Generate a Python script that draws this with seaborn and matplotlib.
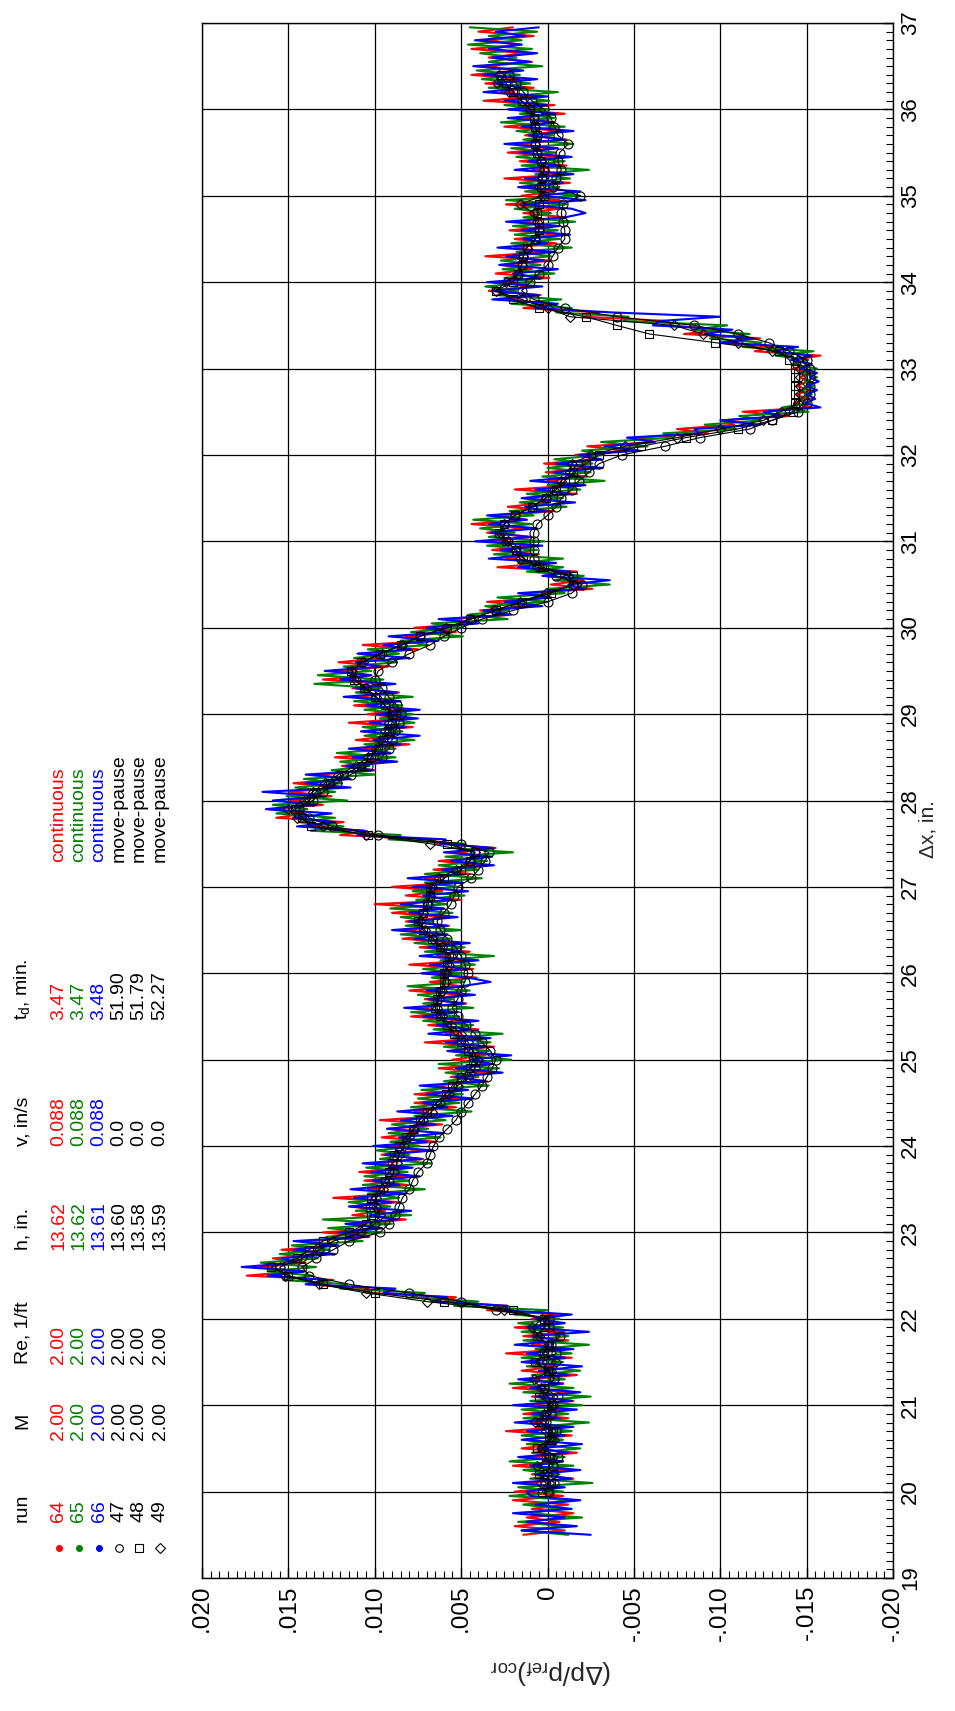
import numpy as np
import pandas as pd
import matplotlib
matplotlib.use("Agg")
import matplotlib.pyplot as plt
import seaborn as sns
from matplotlib.ticker import MultipleLocator
from matplotlib.lines import Line2D

# ---------------- data (pressure values in units of 1e-4) ----------------
# continuous runs: samples every 0.05 in from 19.50 to 36.95
run64 = [14,-10,19,-7,12,-15,9,-12,20,-9,
 19,-7,12,-15,9,-12,20,-9,10,-17,15,-5,14,-14,24,-10,9,-12,14,-10,
 12,-15,9,-12,20,-9,10,-17,15,-5,14,-14,24,-10,9,-12,14,-10,19,-7,
 9,-7,35,23,60,53,105,103,139,124,174,145,167,140,159,130,154,124,139,103,
 130,96,110,82,113,94,114,86,124,87,104,81,106,81,109,81,99,72,96,73,
 94,65,96,75,92,61,97,60,77,53,77,50,77,49,66,35,56,33,63,32,
 55,36,57,31,71,38,59,40,69,47,79,55,75,47,71,49,80,50,68,41,
 72,43,80,45,64,45,74,52,84,61,82,57,82,59,90,60,100,50,82,61,
 90,54,71,45,66,38,63,35,52,30,64,66,120,106,138,118,157,140,162,130,
 149,125,149,121,147,117,132,100,119,94,123,91,108,80,111,89,107,78,115,80,
 104,81,112,88,110,86,113,95,130,102,122,92,121,95,109,75,107,68,82,53,
 77,43,55,21,39,10,35,-2,10,-26,-2,-21,2,-17,29,0,24,5,32,10,
 34,9,35,13,44,12,28,-4,23,-1,14,-17,19,-17,0,-23,1,-25,2,-28,
 -16,-46,-23,-62,-53,-93,-75,-108,-101,-140,-113,-153,-143,-150,-144,-152,-144,-151,-146,-152,
 -142,-153,-143,-158,-120,-130,-101,-123,-79,-102,-71,-70,-21,-30,14,-3,24,4,34,10,
 28,-1,30,9,27,-2,36,1,19,-5,19,-6,22,-4,16,-11,14,-7,24,-7,
 15,-4,16,-13,25,-10,9,-11,16,-7,23,-3,17,-11,13,-8,25,-4,16,-10,
 22,-4,37,5,27,8,36,13,44,17,35,9,34,13,44,15,35,8,40,20]

run65 = [-12,15,-9,17,-20,10,-7,14,-15,22,
 -9,17,-26,10,-7,14,-15,22,-10,9,-19,12,-9,15,-14,7,-24,14,-12,15,
 -20,10,-25,14,-15,22,-10,9,-19,12,-9,15,-14,7,-24,14,-12,15,-9,17,
 -7,19,0,54,40,79,71,120,116,153,136,162,134,166,133,155,126,148,107,128,
 95,127,90,130,79,111,91,115,86,104,71,107,80,106,81,105,67,97,80,99,
 74,91,62,92,69,90,59,77,44,79,51,75,49,73,34,60,40,59,28,63,
 21,53,34,60,33,55,26,66,43,72,51,79,43,72,55,75,45,81,48,67,
 49,72,42,62,31,71,48,77,56,85,50,82,66,85,55,91,58,76,48,78,
 52,71,38,71,40,63,35,59,20,55,48,92,85,137,118,144,123,157,139,159,
 116,151,123,146,119,141,100,125,103,120,88,122,88,106,77,106,84,107,77,97,
 78,106,84,112,78,111,97,135,95,133,102,118,87,112,86,104,69,85,49,79,
 49,67,23,46,23,36,0,29,-10,0,-36,-4,-21,12,-9,17,-9,31,6,35,
 2,34,19,39,9,43,8,22,-11,16,-9,12,-19,0,-33,3,-25,0,-26,-4,
 -32,-20,-58,-31,-73,-67,-109,-91,-124,-111,-151,-136,-152,-146,-153,-147,-154,-149,-156,-147,
 -156,-141,-151,-132,-154,-113,-124,-94,-117,-85,-104,-44,-47,-5,-14,21,-8,29,18,36,
 8,25,-4,26,4,27,-2,18,-14,21,-7,19,-6,20,-16,14,-2,19,-11,24,
 -19,13,-7,16,-13,7,-24,15,-10,18,-5,21,-15,14,-3,18,-10,27,-4,16,
 -1,25,-1,22,-6,34,10,38,16,41,3,34,18,39,9,46,15,34,6,45]

run66 = [-25,15,-17,12,-10,20,-14,7,-19,10,
 12,-10,20,-14,7,-19,10,-9,17,-12,5,-20,15,-10,12,-15,19,-7,9,-17,
 20,-14,7,-19,10,-9,17,-12,5,-20,15,-10,12,-15,19,-7,9,-24,12,-10,
 7,-14,25,23,67,58,95,88,140,128,162,140,177,145,154,123,147,121,147,104,
 120,96,117,87,103,79,115,90,112,82,114,86,101,74,102,78,107,73,94,66,
 101,70,86,60,93,65,85,55,87,58,72,43,70,46,74,36,54,26,53,32,
 45,21,58,35,59,33,69,45,64,40,72,52,83,48,69,42,70,50,33,46,
 73,47,68,40,74,50,69,45,77,58,90,58,80,52,80,60,85,55,72,46,
 78,49,81,50,61,31,56,32,60,31,62,59,110,106,145,123,147,125,163,134,
 159,130,165,114,140,114,140,101,117,87,113,91,115,85,101,74,108,82,103,75,
 99,74,105,85,118,87,111,88,120,102,129,97,111,80,110,79,95,63,92,58,
 70,40,63,22,37,3,25,-2,17,-21,-12,-36,3,-13,17,-5,34,10,27,3,
 42,10,33,6,34,12,35,1,13,-16,15,-13,7,-22,10,-18,-4,-32,-5,-31,
 -18,-53,-33,-62,-46,-88,-85,-123,-100,-136,-125,-158,-149,-155,-150,-156,-150,-157,-152,-156,
 -146,-153,-141,-153,-130,-145,-100,-119,-91,-107,-61,-65,-100,-37,7,-6,32,5,32,3,
 35,4,20,-6,28,2,24,-4,29,0,14,-13,15,-7,24,-10,-22,-14,14,-22,
 5,-19,17,-9,13,-15,19,-6,11,-14,16,-6,25,-10,11,-15,15,-4,23,-5,
 23,0,25,0,37,13,31,6,37,14,43,10,32,6,34,15,42,13,30,5]

# move-pause runs: samples every 0.1 in from 20.0 to 36.4
run47 = [-1,-4,2,-3,-6,3,-2,-5,1,-2,
 -3,-6,2,-4,-1,3,-5,-2,-7,-1,
 -1,30,50,80,115,138,142,134,124,115,
 97,92,88,86,84,80,78,75,70,68,
 66,63,58,53,50,46,42,38,35,32,
 30,33,38,42,47,52,55,52,50,48,
 46,48,50,53,58,62,64,60,56,54,
 52,44,40,36,34,50,98,125,138,144,
 136,130,122,114,104,96,92,90,88,86,
 85,87,92,96,100,98,90,80,68,60,
 50,38,20,0,-14,-20,-5,5,8,8,
 8,8,6,0,-5,-8,-14,-18,-24,-30,
 -43,-68,-88,-117,-130,-145,-150,-152,-152,-152,
 -152,-150,-140,-128,-110,-85,-40,-10,8,15,
 10,5,0,-3,-6,-10,-10,-9,-8,-9,
 -19,-3,-5,-8,-6,-7,-12,-6,-4,-2,
 2,9,14,18,22]

run48 = [3,-2,5,-3,1,6,-1,-3,4,1,
 -2,5,2,-4,0,7,2,-1,6,2,
 2,20,60,100,130,150,160,145,138,130,
 115,105,102,103,102,97,94,92,90,89,
 86,82,78,74,70,64,59,55,50,45,
 43,46,50,54,58,62,65,64,62,60,
 60,58,57,62,67,72,75,72,70,68,
 68,60,50,45,42,58,104,137,142,146,
 138,134,126,118,108,102,98,95,92,90,
 90,94,100,106,112,114,108,97,85,74,
 58,45,30,15,-2,-15,-15,3,14,18,
 24,28,25,19,9,1,-5,-10,-15,-22,
 -30,-54,-80,-110,-130,-142,-143,-143,-143,-143,
 -143,-140,-134,-97,-59,-40,-22,5,20,30,
 20,17,15,14,12,7,5,5,6,5,
 2,4,3,2,4,6,7,6,7,8,
 10,15,20,24,27]

run49 = [0,4,-3,6,-1,3,-4,1,7,2,
 -3,0,4,8,-2,-5,3,0,5,9,
 3,25,70,105,132,152,155,142,132,124,
 108,100,97,99,99,95,92,89,87,86,
 83,80,77,72,67,62,57,52,46,42,
 40,43,46,50,56,61,64,63,61,59,
 59,57,56,61,66,71,74,72,69,68,
 67,63,53,45,42,68,105,130,145,150,
 141,136,129,121,111,104,99,97,94,92,
 91,94,99,105,111,113,107,96,84,74,
 59,44,31,16,1,-15,-12,6,16,19,
 23,27,25,19,9,1,-4,-8,-13,-14,
 -25,-45,-75,-100,-125,-135,-145,-146,-146,-146,
 -146,-145,-130,-110,-90,-73,-13,0,15,30,
 24,17,15,14,12,7,5,6,8,16,
 3,5,3,2,4,6,7,6,7,8,
 10,15,22,29,28]

dx_cont = np.round(np.arange(1950, 3700, 5) / 100.0, 2)
dx_mp = np.round(np.arange(200, 365) / 10.0, 1)

xtick_vals = [0.020, 0.015, 0.010, 0.005, 0.0, -0.005, -0.010, -0.015, -0.020]
xtick_labels = [".020", ".015", ".010", ".005", "0", "-.005", "-.010", "-.015", "-.020"]
ytick_vals = list(range(19, 38))
ytick_labels = [str(v) for v in ytick_vals]

leg_run = ["64", "65", "66", "47", "48", "49"]
leg_M = ["2.00"] * 6
leg_Re = ["2.00"] * 6
leg_h = ["13.62", "13.62", "13.61", "13.60", "13.58", "13.59"]
leg_v = ["0.088", "0.088", "0.088", "0.0", "0.0", "0.0"]
leg_td = ["3.47", "3.47", "3.48", "51.90", "51.79", "52.27"]
leg_mode = ["continuous", "continuous", "continuous", "move-pause", "move-pause", "move-pause"]

# ---------------- style ----------------
sns.set_theme(style="white")
plt.rcParams["font.family"] = ["Liberation Sans", "DejaVu Sans"]
plt.rcParams["mathtext.fontset"] = "custom"
plt.rcParams["mathtext.rm"] = "Liberation Sans"
plt.rcParams["mathtext.it"] = "Liberation Sans"
plt.rcParams["mathtext.default"] = "regular"

W, H = 955, 1711
fig = plt.figure(figsize=(W / 100, H / 100), dpi=100)
fig.patch.set_facecolor("white")
ax = fig.add_axes([202 / W, 1 - 1578 / H, (893 - 202) / W, (1578 - 23) / H])
ax.set_facecolor("white")

RED, GREEN, BLUE = "#ff0000", "#008000", "#0000ff"

def frame(vals, dx):
    n = min(len(vals), len(dx))
    return pd.DataFrame({"dx": dx[:n], "dp": np.array(vals[:n], dtype=float) * 1e-4})

for vals, col in [(run64, RED), (run65, GREEN), (run66, BLUE)]:
    sns.lineplot(data=frame(vals, dx_cont), x="dp", y="dx", orient="y", sort=True,
                 estimator=None, color=col, linewidth=1.5, ax=ax, legend=False, zorder=3)

for vals, mk, ms in [(run47, "o", 6.5), (run48, "s", 6.0), (run49, "D", 5.5)]:
    sns.lineplot(data=frame(vals, dx_mp), x="dp", y="dx", orient="y", sort=True,
                 estimator=None, color="black", linewidth=0.8, marker=mk, markersize=ms,
                 markerfacecolor="none", markeredgecolor="black", markeredgewidth=0.8,
                 ax=ax, legend=False, zorder=4)

ax.set_xlim(0.020, -0.020)
ax.set_ylim(19, 37)
ax.set_xlabel("")
ax.set_ylabel("")

ax.set_xticks(xtick_vals)
ax.set_xticklabels(xtick_labels)
ax.xaxis.set_minor_locator(MultipleLocator(0.0005))
ax.yaxis.tick_right()
ax.set_yticks(ytick_vals)
ax.set_yticklabels(ytick_labels)
ax.yaxis.set_minor_locator(MultipleLocator(0.1))

ax.tick_params(axis="x", which="both", direction="in", bottom=True, top=False, labelbottom=True)
ax.tick_params(axis="y", which="both", direction="in", right=True, left=False,
               labelright=True, labelleft=False)
ax.tick_params(which="major", length=7, width=1.0, color="black", labelcolor="black")
ax.tick_params(which="minor", length=5, width=0.8, color="black")
ax.tick_params(axis="x", which="major", labelrotation=90, pad=5, labelsize=17.5)
ax.tick_params(axis="y", which="major", labelrotation=90, pad=5, labelsize=16)
for lbl in ax.get_yticklabels():
    lbl.set_va("center")

ax.grid(True, which="major", color="black", linewidth=0.9)
ax.grid(False, which="minor")
ax.set_axisbelow(True)
for s in ax.spines.values():
    s.set_visible(True)
    s.set_color("black")
    s.set_linewidth(1.0)

# axis titles (rotated page)
fig.text(928 / W, 1 - 829 / H, "\u0394x, in.", rotation=90, ha="center", va="center", fontsize=15)
fig.text(551 / W, 1 - 1672 / H, "(\u0394p/p$_{ref}$)$_{cor}$", rotation=180,
         ha="center", va="center", fontsize=19)

# legend table (outside the frame, rotated)
row_x = [59, 79, 99, 119, 139, 160]
row_col = [RED, GREEN, BLUE, "black", "black", "black"]
hdr_x = 22.5
LFS = 14

def ltext(x, y, s, color="black", va="bottom"):
    fig.text(x / W, 1 - y / H, s, rotation=90, ha="center", va=va, color=color, fontsize=LFS)

# (text, y position, vertical anchor)
headers = [("run", 1522, "bottom"), ("M", 1421, "center"), ("Re, 1/ft", 1364, "bottom"),
           ("h, in.", 1250, "bottom"), ("v, in/s", 1146, "bottom"), ("t$_d$, min.", 1020, "bottom")]
for s, yb, va in headers:
    ltext(hdr_x, yb, s, va=va)

columns = [(leg_run, 1522, "bottom"), (leg_M, 1421, "center"), (leg_Re, 1364, "bottom"),
           (leg_h, 1250, "bottom"), (leg_v, 1146, "bottom"), (leg_td, 1020, "bottom"),
           (leg_mode, 862, "bottom")]
for vals, yb, va in columns:
    for x, s, c in zip(row_x, vals, row_col):
        ltext(x, yb, s, c, va=va)

mk_specs = [("o", RED, 4.2, True), ("o", GREEN, 4.2, True), ("o", BLUE, 4.2, True),
            ("o", "black", 5.5, False), ("s", "black", 5.5, False), ("D", "black", 5.5, False)]
for x, (mk, c, ms, filled) in zip(row_x, mk_specs):
    fig.add_artist(Line2D([x / W], [1 - 1548 / H], transform=fig.transFigure, marker=mk,
                          markersize=ms, linestyle="none", markeredgecolor=c,
                          markerfacecolor=c if filled else "none", markeredgewidth=0.8))

fig.savefig("out.png", dpi=100, facecolor="white")
